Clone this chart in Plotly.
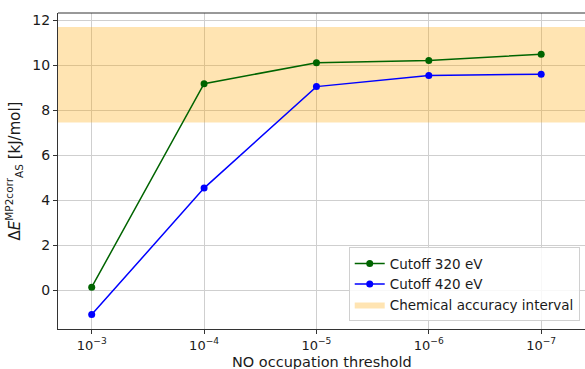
import plotly.graph_objects as go

# NO occupation thresholds and correlation energies (kJ/mol)
thresholds = [1e-3, 1e-4, 1e-5, 1e-6, 1e-7]
tick_labels = ["10<sup>−3</sup>", "10<sup>−4</sup>", "10<sup>−5</sup>", "10<sup>−6</sup>", "10<sup>−7</sup>"]
cutoff_320 = [0.15, 9.19, 10.12, 10.22, 10.50]
cutoff_420 = [-1.07, 4.55, 9.06, 9.55, 9.61]
band_low = 7.47
band_high = 11.71
band_x = [1e-2, 1e-9]

font = "DejaVu Sans"
fig = go.Figure()

# Chemical accuracy band
fig.add_trace(go.Scatter(
    x=[band_x[0], band_x[1], band_x[1], band_x[0], band_x[0]],
    y=[band_low, band_low, band_high, band_high, band_low],
    fill="toself", fillcolor="rgba(255,165,0,0.3)",
    line=dict(width=0), mode="lines", hoverinfo="skip",
    name="Chemical accuracy interval", legendrank=3,
))
fig.add_trace(go.Scatter(
    x=thresholds, y=cutoff_320, mode="lines+markers",
    line=dict(color="#006400", width=1.5), marker=dict(size=7, color="#006400"),
    name="Cutoff 320 eV", legendrank=1,
))
fig.add_trace(go.Scatter(
    x=thresholds, y=cutoff_420, mode="lines+markers",
    line=dict(color="#0000ff", width=1.5), marker=dict(size=7, color="#0000ff"),
    name="Cutoff 420 eV", legendrank=2,
))

fig.update_layout(
    width=585, height=369,
    margin=dict(l=58, r=0, t=13, b=40),
    plot_bgcolor="white", paper_bgcolor="white",
    font=dict(family=font, size=13, color="#1a1a1a"),
    showlegend=True,
    legend=dict(
        x=0.99, y=0.025, xanchor="right", yanchor="bottom",
        bgcolor="rgba(255,255,255,0.85)", bordercolor="#d0d0d0", borderwidth=1,
        font=dict(family=font, size=13.5, color="#1a1a1a"),
        tracegroupgap=0,
    ),
)
fig.update_xaxes(
    type="log", range=[-2.70, -7.39], automargin=False,
    tickvals=thresholds, ticktext=tick_labels,
    showgrid=True, gridcolor="#cfcfcf", gridwidth=1,
    ticks="outside", ticklen=4, tickcolor="#333333",
    showline=True, linecolor="#333333", linewidth=1,
    mirror=False, zeroline=False,
    tickfont=dict(family=font, size=13),
)
fig.update_yaxes(
    range=[-1.71, 12.33], automargin=False,
    tickvals=[0, 2, 4, 6, 8, 10, 12],
    showgrid=True, gridcolor="#cfcfcf", gridwidth=1,
    ticks="outside", ticklen=4, tickcolor="#333333",
    showline=True, linecolor="#333333", linewidth=1,
    zeroline=False,
    title=dict(text="Δ<i>E</i><sup>MP2corr</sup><sub>AS</sub> [kJ/mol]", font=dict(family=font, size=15), standoff=8),
    tickfont=dict(family=font, size=14),
)
# x-axis title
fig.add_annotation(text="NO occupation threshold", xref="paper", yref="paper",
                   x=0.5, y=-0.103, xanchor="center", yanchor="middle",
                   showarrow=False, font=dict(family=font, size=14.5, color="#1a1a1a"))
# top spine
fig.add_shape(type="line", xref="paper", yref="paper", x0=0, x1=1, y0=1, y1=1,
              line=dict(color="#333333", width=1))

fig.write_html("out.html")
